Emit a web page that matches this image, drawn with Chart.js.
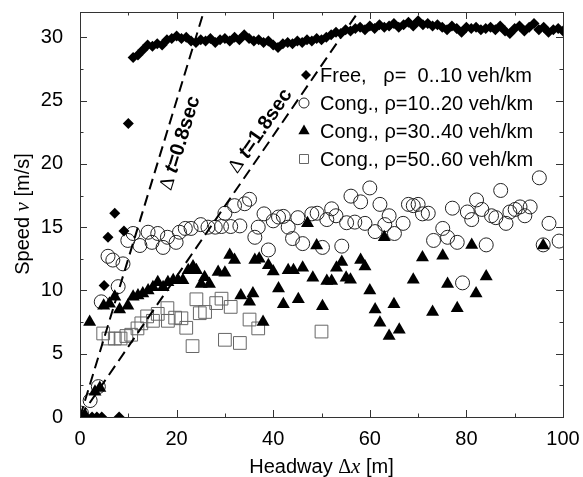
<!DOCTYPE html>
<html><head><meta charset="utf-8">
<script src="https://cdn.jsdelivr.net/npm/chart.js@4.4.1/dist/chart.umd.min.js"></script>
<style>html,body{margin:0;padding:0;background:#fff;}#wrap{width:583px;height:477px;position:relative;}</style>
</head><body><div id="wrap"><canvas id="c" width="583" height="477"></canvas></div>
<script>
// ---- data (headway x in m, speed v in m/s) ----
const freeX = [0.5,2.5,3.5,4.5,8.1,5.0,5.8,7.2,9.1,10.0,
 11,12,13,14,15,16,17,18,19,20,21,22,23,24,25,26,27,28,29,30,31,32,33,34,35,36,37,38,39,40,
 41,42,43,44,45,46,47,48,49,50,51,52,53,54,55,56,57,58,59,60,61,62,63,64,65,66,67,68,69,70,
 71,72,73,74,75,76,77,78,79,80,81,82,83,84,85,86,87,88,89,90,91,92,93,94,95,96,97,98,99,100];
const freeV = [0,0,0,0,0,10.4,14.2,16.1,14.7,23.2,
 28.4,28.6,29.0,29.4,29.3,29.5,29.4,29.8,29.9,30.1,29.9,30.0,29.7,29.6,29.8,29.7,29.9,29.6,29.8,29.9,
 29.7,30.0,29.8,30.2,29.9,29.7,29.8,29.6,29.7,29.4,29.2,29.5,29.6,29.5,29.7,29.6,29.8,29.7,29.9,29.8,
 30.0,30.2,30.4,30.3,30.6,30.5,30.7,30.8,30.6,30.9,30.7,31.0,30.8,30.9,31.1,30.8,31.0,31.2,30.9,31.3,
 31.0,31.1,30.9,31.0,30.8,30.6,30.9,30.7,30.4,30.8,30.7,30.8,30.6,30.7,30.8,30.6,30.9,30.5,30.3,30.7,
 30.9,30.5,30.8,31.1,30.6,30.8,30.4,30.6,30.7,30.5];

const cong1X = [0.3,2.1,3.8,4.4,7.9,5.8,6.8,8.9,9.9,11.0,12.4,14.1,14.9,16.1,17.2,18.1,19.9,20.6,21.8,23.0,
 25.0,26.5,28.0,29.3,31.2,33.1,30.0,32.0,34.1,35.1,36.2,36.9,38.1,39.0,40.0,41.1,42.1,43.1,44.0,45.1,
 46.1,48.0,49.1,50.2,51.1,52.1,53.0,54.2,55.2,56.1,56.9,58.1,59.0,60.0,61.1,62.1,63.1,64.0,65.1,66.9,
 68.0,69.0,70.0,70.9,72.1,73.2,75.1,76.1,77.1,78.1,79.2,80.2,81.1,82.1,83.2,84.1,85.2,86.1,87.1,88.2,
 89.0,90.1,91.1,92.1,93.2,95.1,95.9,97.1,99.2];
const cong1V = [0.3,1.3,2.4,9.1,10.3,12.7,12.4,12.1,13.95,14.5,13.55,14.6,13.8,14.5,13.4,14.2,13.8,14.6,14.9,14.9,
 15.2,15.0,15.0,15.05,15.05,15.1,16.1,16.7,16.85,17.2,14.2,15.0,16.05,13.2,15.5,15.8,15.85,15.0,14.1,15.75,
 13.7,16.05,16.1,13.4,15.6,16.45,15.9,13.5,15.35,17.45,15.4,17.0,15.3,18.1,14.65,16.8,15.2,15.9,14.5,15.3,
 16.8,16.7,16.8,16.05,16.1,13.95,14.9,14.2,16.5,13.8,10.6,16.2,15.6,17.15,16.4,13.6,15.9,15.75,17.9,15.3,
 16.2,16.4,16.6,15.9,16.6,18.9,13.6,15.3,13.9];

const cong3X = [1.0,3.1,4.1,2.0,4.9,6.1,7.2,8.2,9.9,11.0,12.0,13.0,14.1,15.1,16.1,17.2,18.2,19.3,20.3,21.3,
 22.4,23.4,24.1,25.1,25.8,26.8,28.6,30.0,31.0,32.0,33.3,35.1,35.8,36.2,37.1,37.9,39.0,40.0,41.1,42.1,
 43.1,44.2,45.2,46.1,47.1,48.2,49.0,50.2,51.1,52.1,53.1,54.2,55.1,56.0,58.1,59.0,60.0,61.1,62.1,63.0,
 64.0,65.0,66.1,69.0,70.9,73.0,75.1,76.1,78.1,81.1,82.0,84.1,95.9];
const cong3V = [0.15,2.0,2.3,7.5,8.8,8.95,9.5,8.5,8.8,9.5,9.6,9.75,10.0,10.25,10.65,10.25,10.65,10.8,10.8,10.8,
 11.6,11.9,11.6,10.5,11.05,10.5,11.45,11.4,12.8,12.4,9.6,9.1,9.75,12.4,12.5,7.5,12.0,11.5,10.15,8.9,
 11.6,11.6,9.3,11.8,15.3,11.0,13.55,8.75,10.75,10.75,11.8,12.25,11.0,10.85,12.4,11.9,10.0,8.5,7.45,14.2,
 6.4,8.9,6.9,10.85,12.6,8.3,12.75,10.5,8.6,13.6,9.75,11.1,13.55];

const cong5X = [4.8,5.9,7.2,8.4,9.6,10.6,11.9,12.7,13.9,15.1,16.1,18.1,18.2,19.7,21.0,22.0,23.3,24.1,24.8,25.9,
 28.2,29.3,30.0,31.2,33.1,35.1,36.9,50.0];
const cong5V = [6.6,6.2,6.2,6.2,6.4,6.5,7.0,7.4,7.95,7.6,8.15,8.6,7.6,7.85,7.8,7.05,5.6,9.3,8.2,8.3,
 9.0,9.35,6.1,8.7,5.85,7.7,7.0,6.75];

// reference lines v = dx / dt
const line08X = [0, 25.6], line08V = [0, 32];
const line18X = [0, 57.6], line18V = [0, 32];

const xTicks = [0, 20, 40, 60, 80, 100];
const yTicks = [0, 5, 10, 15, 20, 25, 30];
const legendLabels = ['Free,   \u03c1=  0..10 veh/km', 'Cong., \u03c1=10..20 veh/km', 'Cong., \u03c1=30..40 veh/km', 'Cong., \u03c1=50..60 veh/km'];

const pts = (xs, vs) => xs.map((x, i) => ({x: x, y: vs[i]}));
const SANS = '"Liberation Sans", Arial, sans-serif';
const SERIF = '"Liberation Serif", "Times New Roman", serif';

function drawMarker(ctx, type, x, y, s) {
  ctx.save();
  ctx.beginPath();
  if (type === 'diamond') {
    ctx.moveTo(x - s, y); ctx.lineTo(x, y - s); ctx.lineTo(x + s, y); ctx.lineTo(x, y + s); ctx.closePath();
    ctx.fillStyle = '#000'; ctx.fill();
  } else if (type === 'circle') {
    ctx.arc(x, y, s, 0, Math.PI * 2); ctx.strokeStyle = '#222'; ctx.lineWidth = 1; ctx.stroke();
  } else if (type === 'triangle') {
    ctx.moveTo(x, y - s); ctx.lineTo(x + s * 0.866, y + s * 0.5); ctx.lineTo(x - s * 0.866, y + s * 0.5); ctx.closePath();
    ctx.fillStyle = '#000'; ctx.fill();
  } else {
    ctx.rect(x - s, y - s, 2 * s, 2 * s); ctx.strokeStyle = '#666'; ctx.lineWidth = 1; ctx.stroke();
  }
  ctx.restore();
}

function drawMixed(ctx, parts, x, y) {
  let cx = x;
  parts.forEach(p => { ctx.font = p[1]; ctx.fillText(p[0], cx, y); cx += ctx.measureText(p[0]).width; });
}
function mixedWidth(ctx, parts) {
  let w = 0; parts.forEach(p => { ctx.font = p[1]; w += ctx.measureText(p[0]).width; }); return w;
}

const decor = {
  id: 'decor',
  afterDatasetsDraw(chart) {
    const ctx = chart.ctx, a = chart.chartArea, xs = chart.scales.x, ys = chart.scales.y;
    ctx.save();
    // frame
    ctx.strokeStyle = '#333'; ctx.lineWidth = 1;
    ctx.strokeRect(Math.round(a.left) + 0.5, Math.round(a.top) + 0.5, Math.round(a.right - a.left), Math.round(a.bottom - a.top));
    // inward ticks on all four sides
    ctx.beginPath();
    for (let v = 0; v <= 100; v += 10) {
      const px = Math.round(xs.getPixelForValue(v)) + 0.5, L = (v % 20 === 0) ? 7 : 3.5;
      ctx.moveTo(px, a.bottom); ctx.lineTo(px, a.bottom - L);
      ctx.moveTo(px, a.top); ctx.lineTo(px, a.top + L);
    }
    for (let v = 0; v <= 32; v += 2.5) {
      const py = Math.round(ys.getPixelForValue(v)) + 0.5, L = (v % 5 === 0) ? 7 : 3.5;
      ctx.moveTo(a.left, py); ctx.lineTo(a.left + L, py);
      ctx.moveTo(a.right, py); ctx.lineTo(a.right - L, py);
    }
    ctx.stroke();

    // reference-line labels
    ctx.fillStyle = '#000';
    const lab = (dt, v, off, txt) => {
      const p0x = xs.getPixelForValue(0), p0y = ys.getPixelForValue(0);
      const p1x = xs.getPixelForValue(dt * 32), p1y = ys.getPixelForValue(32);
      const ang = Math.atan2(p1y - p0y, p1x - p0x);
      const ax = xs.getPixelForValue(dt * v), ay = ys.getPixelForValue(v);
      const nx = -Math.sin(ang), ny = Math.cos(ang);
      ctx.save();
      ctx.translate(ax + nx * off, ay + ny * off);
      ctx.rotate(ang);
      ctx.textBaseline = 'middle';
      const parts = [['\u0394 ', '20px ' + SERIF], ['t', 'italic bold 20px ' + SANS], [txt, 'bold 20px ' + SANS]];
      const w = mixedWidth(ctx, parts);
      drawMixed(ctx, parts, -w / 2, 0);
      ctx.restore();
    };
    lab(0.8, 22, 16, '=0.8sec');
    lab(1.8, 22, -13, '=1.8sec');

    // legend
    const types = ['diamond', 'circle', 'triangle', 'square'];
    const sizes = [5, 5, 6.5, 4.5];
    const rowsY = [75, 103, 131, 159];
    ctx.textBaseline = 'middle'; ctx.textAlign = 'left';
    legendLabels.forEach((t, i) => {
      drawMarker(ctx, types[i], i === 0 ? 306 : 304, rowsY[i], sizes[i]);
      ctx.fillStyle = '#000'; ctx.font = '20px ' + SANS;
      ctx.fillText(t, 320, rowsY[i] + 1);
    });

    // axis titles
    ctx.textBaseline = 'alphabetic';
    const xt = [['Headway ', '20px ' + SANS], ['\u0394', '20px ' + SERIF], ['x', 'italic 21px ' + SERIF], [' [m]', '20px ' + SANS]];
    const xw = mixedWidth(ctx, xt);
    drawMixed(ctx, xt, (a.left + a.right) / 2 - xw / 2, 473);
    ctx.save();
    ctx.translate(29, 214); ctx.rotate(-Math.PI / 2);
    const yt = [['Speed ', '20px ' + SANS], ['\u03bd', 'italic 21px ' + SERIF], [' [m/s]', '20px ' + SANS]];
    const yw = mixedWidth(ctx, yt);
    drawMixed(ctx, yt, -yw / 2, 0);
    ctx.restore();
    ctx.restore();
  }
};

const noPad = s => { s.paddingTop = 0; s.paddingBottom = 0; s.paddingLeft = 0; s.paddingRight = 0; };

new Chart(document.getElementById('c'), {
  type: 'scatter',
  data: {
    datasets: [
      {label: 'dt08', data: pts(line08X, line08V), showLine: true, borderColor: '#000', borderWidth: 2, borderDash: [11, 6], pointRadius: 0, order: 0},
      {label: 'dt18', data: pts(line18X, line18V), showLine: true, borderColor: '#000', borderWidth: 2, borderDash: [11, 6], pointRadius: 0, order: 0},
      {label: legendLabels[0], data: pts(freeX, freeV), pointStyle: 'rectRot', pointRadius: 5.5, backgroundColor: '#000', borderColor: '#000', borderWidth: 0, order: 1},
      {label: legendLabels[2], data: pts(cong3X, cong3V), pointStyle: 'triangle', pointRadius: 7.5, backgroundColor: '#000', borderColor: '#000', borderWidth: 0, order: 2},
      {label: legendLabels[1], data: pts(cong1X, cong1V), pointStyle: 'circle', pointRadius: 7, backgroundColor: 'rgba(0,0,0,0)', borderColor: '#222', borderWidth: 1, order: 3},
      {label: legendLabels[3], data: pts(cong5X, cong5V), pointStyle: 'rect', pointRadius: 9, backgroundColor: 'rgba(0,0,0,0)', borderColor: '#666', borderWidth: 1, order: 4}
    ]
  },
  options: {
    responsive: false, animation: false, devicePixelRatio: 1,
    layout: {padding: {left: 0, top: 12, right: 20, bottom: 0}},
    plugins: {legend: {display: false}, tooltip: {enabled: false}},
    elements: {point: {hoverRadius: 0}},
    scales: {
      x: {type: 'linear', min: 0, max: 100, grid: {display: false, drawTicks: false}, border: {display: false},
          afterBuildTicks: s => { s.ticks = xTicks.map(v => ({value: v})); },
          afterFit: s => { s.height = 60; noPad(s); },
          ticks: {padding: 10, color: '#000', font: {family: SANS, size: 20}, maxRotation: 0}},
      y: {type: 'linear', min: 0, max: 32, grid: {display: false, drawTicks: false}, border: {display: false},
          afterBuildTicks: s => { s.ticks = yTicks.map(v => ({value: v})); },
          afterFit: s => { s.width = 80; noPad(s); },
          ticks: {padding: 17, color: '#000', font: {family: SANS, size: 20}}}
    }
  },
  plugins: [decor]
});
</script></body></html>
